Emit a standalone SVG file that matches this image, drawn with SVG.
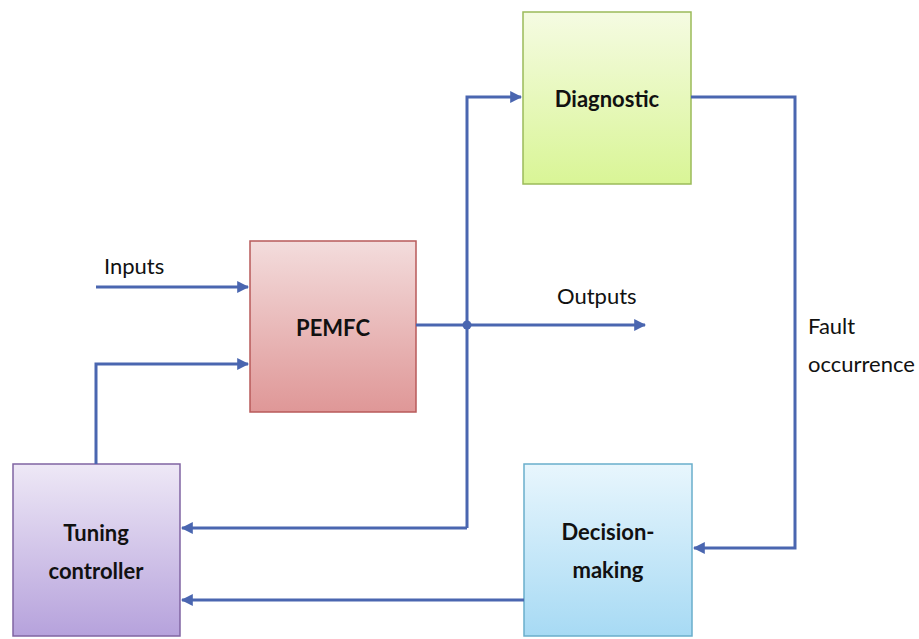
<svg xmlns="http://www.w3.org/2000/svg" width="919" height="639" viewBox="0 0 919 639">
<defs>
<linearGradient id="gRed" x1="0" y1="0" x2="0" y2="1"><stop offset="0" stop-color="#f3dcdc"/><stop offset="1" stop-color="#df9797"/></linearGradient>
<linearGradient id="gGreen" x1="0" y1="0" x2="0" y2="1"><stop offset="0" stop-color="#f5fbe2"/><stop offset="1" stop-color="#d9f596"/></linearGradient>
<linearGradient id="gPurple" x1="0" y1="0" x2="0" y2="1"><stop offset="0" stop-color="#eee8f6"/><stop offset="1" stop-color="#b6a2dc"/></linearGradient>
<linearGradient id="gBlue" x1="0" y1="0" x2="0" y2="1"><stop offset="0" stop-color="#e8f6fd"/><stop offset="1" stop-color="#a7daf4"/></linearGradient>
<marker id="arr" viewBox="0 0 10 10" refX="9" refY="5" markerWidth="4" markerHeight="4" orient="auto" markerUnits="strokeWidth"><path d="M0,0 L10,5 L0,10 Z" fill="#4a66b0"/></marker>
</defs>
<style>
.box{stroke-width:1.5}
.lbl{font-family:Lato,"Open Sans","Liberation Sans",sans-serif;font-weight:bold;font-size:22px;fill:#111;text-anchor:middle}
.txt{font-family:Lato,"Open Sans","Liberation Sans",sans-serif;font-size:22px;fill:#111}
.ln{fill:none;stroke:#4a66b0;stroke-width:3}
</style>
<rect width="919" height="639" fill="#ffffff"/>
<g id="pemfc"><rect class="box" x="250" y="241" width="166" height="171" fill="url(#gRed)" stroke="#b85a5a"/><text class="lbl" x="333" y="336">PEMFC</text></g>
<g id="diagnostic"><rect class="box" x="523" y="12" width="168" height="172" fill="url(#gGreen)" stroke="#9bbb59"/><text class="lbl" x="607" y="107">Diagnostic</text></g>
<g id="tuning"><rect class="box" x="13" y="464" width="167" height="172" fill="url(#gPurple)" stroke="#8064a2"/><text class="lbl" x="96" y="541">Tuning</text><text class="lbl" x="96" y="579">controller</text></g>
<g id="decision"><rect class="box" x="524" y="464" width="168" height="172" fill="url(#gBlue)" stroke="#6aaecb"/><text class="lbl" x="608" y="540">Decision-</text><text class="lbl" x="608" y="578">making</text></g>
<g id="connectors">
<path class="ln" d="M96,287 H248" marker-end="url(#arr)"/>
<path class="ln" d="M96,464 V364 H248" marker-end="url(#arr)"/>
<path class="ln" d="M416,325 H645" marker-end="url(#arr)"/>
<path class="ln" d="M467,528 V97 H521" marker-end="url(#arr)"/>
<path class="ln" d="M467,528 H182" marker-end="url(#arr)"/>
<path class="ln" d="M691,97 H795 V548 H694" marker-end="url(#arr)"/>
<path class="ln" d="M524,600 H182" marker-end="url(#arr)"/>
<circle cx="467" cy="325" r="4.5" fill="#4a66b0"/>
</g>
<g id="labels">
<text class="txt" x="104" y="274">Inputs</text>
<text class="txt" x="557" y="304">Outputs</text>
<text class="txt" x="808" y="334">Fault</text>
<text class="txt" x="808" y="372">occurrence</text>
</g>
</svg>
